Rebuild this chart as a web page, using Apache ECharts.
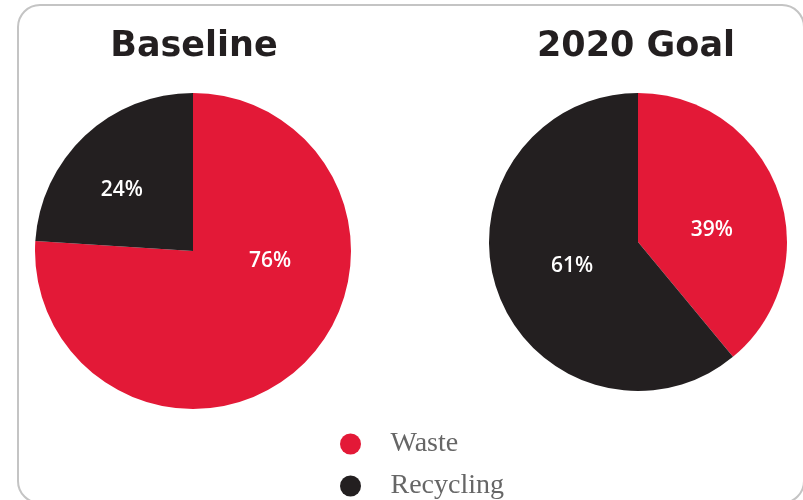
<!DOCTYPE html>
<html><head><meta charset="utf-8">
<script src="https://cdn.jsdelivr.net/npm/echarts@6/dist/echarts.min.js"></script>
<style>html,body{margin:0;padding:0;background:#fff}#c{width:803px;height:500px}</style>
</head><body><div id="c"></div>
<script>
var categories = ['Waste', 'Recycling'];
var baselineValues = [76, 24];
var goalValues = [39, 61];
var chartTitles = ['Baseline', '2020 Goal'];
var colors = ['#e31937', '#231f20'];

var labelOffsets = [
  [[21, -50], [-15, -1]],
  [[1, 14], [7, -2]]
];

function buildData(vals, k) {
  return categories.map(function (c, i) {
    return {
      name: c, value: vals[i],
      itemStyle: { color: colors[i] },
      label: { offset: labelOffsets[k][i] }
    };
  });
}

var chart = echarts.init(document.getElementById('c'), null, { renderer: 'canvas' });
chart.setOption({
  animation: false,
  graphic: [{
    type: 'rect', left: 17, top: 4, z: -1,
    shape: { width: 786, height: 498, r: 22 },
    style: { fill: '#fff', stroke: '#c4c4c4', lineWidth: 2 }
  }],
  title: [
    { text: chartTitles[0], left: 189, top: 24, textAlign: 'center',
      textStyle: { fontFamily: 'DejaVu Sans', fontWeight: 'bold', fontSize: 35, color: '#231f20' } },
    { text: chartTitles[1], left: 631, top: 24, textAlign: 'center',
      textStyle: { fontFamily: 'DejaVu Sans', fontWeight: 'bold', fontSize: 35, color: '#231f20' } }
  ],
  legend: {
    data: categories, orient: 'vertical', left: 335, top: 425, height: 120,
    icon: 'circle', itemWidth: 70, itemHeight: 21, itemGap: 14,
    selectedMode: false,
    textStyle: { fontFamily: 'Liberation Serif', fontSize: 28, color: '#666666' }
  },
  series: [
    { type: 'pie', center: [193, 251], radius: [0, 158], startAngle: 90, clockwise: true,
      label: { show: true, position: 'inside', formatter: '{c}%', color: '#fff',
               fontFamily: 'Open Sans', fontWeight: 600, fontSize: 21 },
      labelLine: { show: false }, emphasis: { disabled: true },
      itemStyle: { borderWidth: 0 },
      data: buildData(baselineValues, 0) },
    { type: 'pie', center: [638, 242], radius: [0, 149], startAngle: 90, clockwise: true,
      label: { show: true, position: 'inside', formatter: '{c}%', color: '#fff',
               fontFamily: 'Open Sans', fontWeight: 600, fontSize: 21 },
      labelLine: { show: false }, emphasis: { disabled: true },
      itemStyle: { borderWidth: 0 },
      data: buildData(goalValues, 1) }
  ]
});
</script></body></html>
